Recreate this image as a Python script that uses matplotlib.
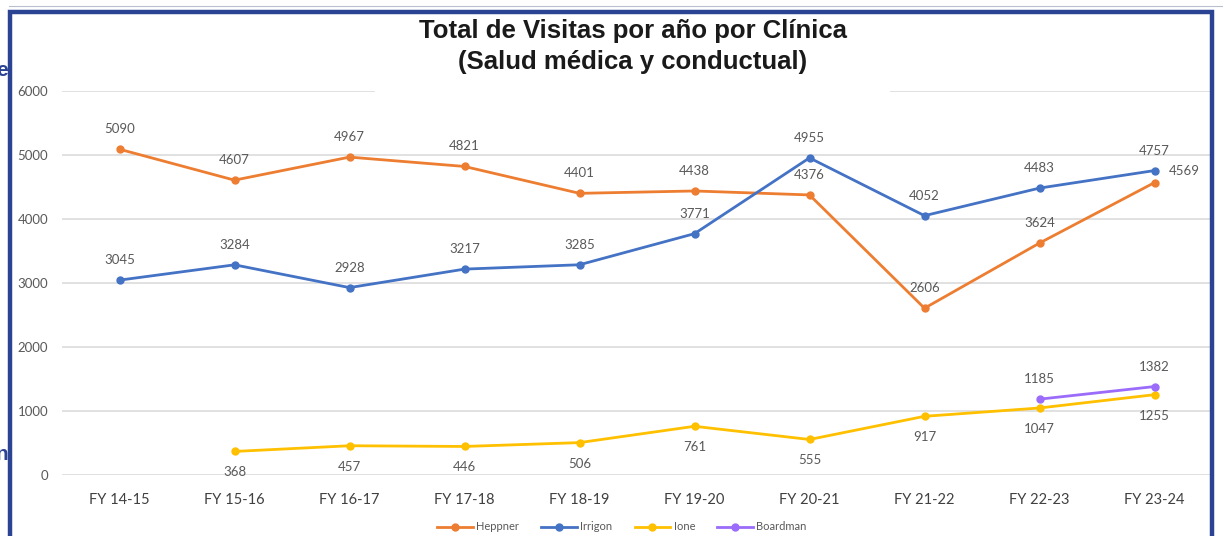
import matplotlib.pyplot as plt
from matplotlib.patches import Rectangle
from matplotlib.lines import Line2D
import numpy as np

years = ['FY 14-15', 'FY 15-16', 'FY 16-17', 'FY 17-18', 'FY 18-19',
         'FY 19-20', 'FY 20-21', 'FY 21-22', 'FY 22-23', 'FY 23-24']
heppner = [5090, 4607, 4967, 4821, 4401, 4438, 4376, 2606, 3624, 4569]
irrigon = [3045, 3284, 2928, 3217, 3285, 3771, 4955, 4052, 4483, 4757]
ione = [np.nan, 368, 457, 446, 506, 761, 555, 917, 1047, 1255]
boardman = [np.nan] * 8 + [1185, 1382]

plt.rcParams['font.family'] = ['Lato', 'DejaVu Sans']

fig = plt.figure(figsize=(12.23, 5.36), dpi=100)
ax = fig.add_axes([62 / 1223, 61 / 536, 1150 / 1223, 384 / 536])

x = np.arange(len(years))
series = [
    ('Heppner', heppner, '#ED7D31', 'above'),
    ('Irrigon', irrigon, '#4472C4', 'above'),
    ('Ione', ione, '#FFC000', 'below'),
    ('Boardman', boardman, '#9B6BFA', 'above'),
]
for name, vals, col, pos in series:
    ax.plot(x, vals, color=col, lw=2.0, marker='o', ms=5, label=name, zorder=3)
    for xi, v in zip(x, vals):
        if np.isnan(v):
            continue
        dx, dy = 0, (20 if pos == 'above' else -21)
        if name == 'Heppner' and xi == 9:
            dx, dy = 30, 12
        ax.annotate(f'{int(v)}', (xi, v), xytext=(dx, dy), textcoords='offset pixels',
                    ha='center', va='center', fontsize=9.5, color='#595959', zorder=4)

ax.set_xlim(-0.5, 9.5)
ax.set_ylim(0, 6000)
ax.set_yticks(range(0, 6001, 1000))
ax.set_xticks(x)
ax.set_xticklabels(years, fontsize=10.5, color='#404040')
ax.tick_params(axis='y', labelsize=9.5, labelcolor='#595959', length=0, pad=10)
ax.tick_params(axis='x', length=0, pad=13)
ax.grid(axis='y', color='#dcdcdc', lw=1.2)
ax.set_axisbelow(True)
for s in ax.spines.values():
    s.set_visible(False)

leg = fig.legend(loc='center', bbox_to_anchor=(622 / 1223, 1 - 527 / 536), ncol=4,
                 frameon=False, fontsize=8, handlelength=3.2, columnspacing=2.0,
                 handletextpad=0.3, labelcolor='#595959')

# white box behind the title
fig.patches.append(Rectangle((375 / 1223, 1 - 96 / 536), 515 / 1223, 80 / 536,
                             transform=fig.transFigure, facecolor='white',
                             edgecolor='none', zorder=1))
fig.text(633 / 1223, 1 - 31 / 536, 'Total de Visitas por año por Clínica',
         ha='center', va='center', fontsize=18.5, fontweight='bold',
         family='Liberation Sans', color='#1a1a1a', zorder=2)
fig.text(633 / 1223, 1 - 62 / 536, '(Salud médica y conductual)',
         ha='center', va='center', fontsize=18.5, fontweight='bold',
         family='Liberation Sans', color='#1a1a1a', zorder=2)

# page border
border = '#2B4393'
fig.lines.append(Line2D([0.007, 1], [1 - 6 / 536] * 2, transform=fig.transFigure,
                        color='#b8bfcf', lw=0.8))
fig.patches.append(Rectangle((10 / 1223, -0.1), 1202 / 1223, 1.1 - 12 / 536,
                             transform=fig.transFigure, facecolor='none',
                             edgecolor=border, lw=3.2, zorder=5, clip_on=False))
fig.text(-4 / 1223, 1 - 70 / 536, 'e', fontsize=15, fontweight='bold',
         color=border, va='center', family='Liberation Sans')
fig.text(-4 / 1223, 1 - 455 / 536, 'n', fontsize=15, fontweight='bold',
         color=border, va='center', family='Liberation Sans')

fig.savefig('out.png', dpi=100)
